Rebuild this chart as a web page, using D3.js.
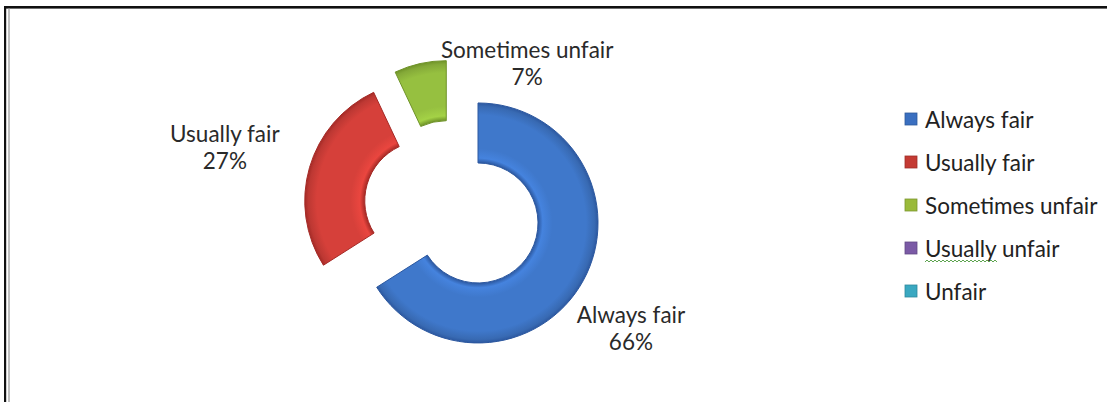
<!DOCTYPE html>
<html><head><meta charset="utf-8">
<script src="https://cdn.jsdelivr.net/npm/d3@7"></script>
<style>
body{margin:0;background:#fff;}
svg text{font-family:Lato,"Open Sans",sans-serif;}
</style>
</head><body>
<svg id="chart" width="1107" height="402"></svg>
<script>
// ---- data ----
const categories = ["Always fair", "Usually fair", "Sometimes unfair", "Usually unfair", "Unfair"];
const values = [66, 27, 7, 0, 0];
const percentLabels = ["66%", "27%", "7%", "0%", "0%"];

// ---- styling / layout ----
const palette = ["#3f78cb", "#d6403a", "#96c040", "#7e5ba8", "#3eaac4"];
const edgeDark = ["#2c58a0", "#a52a26", "#6f9328", "#5a3f80", "#2a8099"];
const legendPalette = ["#3a6fc0", "#c43a33", "#9aba3a", "#7b5aa6", "#3aa8c1"];
const labelNudge = [7.8, -3.4, 49.1, 0, 0];      // degrees added to mid-angle for label
const labelDist  = [190.5, 205, 136, 150, 150];  // label distance from slice centre

const W = 1107, H = 402;
const cx = 452.6, cy = 209, R = 120, r0 = 60, explode = 29;

const svg = d3.select("#chart");
svg.append("rect").attr("width", W).attr("height", H).attr("fill", "#fff");

// frame lines
svg.append("rect").attr("x", 4).attr("y", 6).attr("width", W - 4).attr("height", 2.6).attr("fill", "#111");
svg.append("rect").attr("x", 4).attr("y", 6).attr("width", 2.2).attr("height", H - 6).attr("fill", "#111");
svg.append("rect").attr("x", 8.2).attr("y", 8.6).attr("width", 1.6).attr("height", H - 8).attr("fill", "#b0b0b0");

const data = categories.map((c, i) => ({ name: c, value: values[i], label: percentLabels[i], i }));
const pie = d3.pie().sort(null).value(d => d.value).startAngle(0).endAngle(2 * Math.PI);
const arc = d3.arc().innerRadius(r0).outerRadius(R);
const arcs = pie(data).filter(d => d.value > 0);

const defs = svg.append("defs");
arcs.forEach(d => {
  const i = d.data.i;
  const g = defs.append("radialGradient").attr("id", "grad" + i)
    .attr("gradientUnits", "userSpaceOnUse").attr("cx", 0).attr("cy", 0).attr("r", R);
  const base = d3.color(palette[i]);
  const stops = [
    [0.50, d3.color(edgeDark[i])],
    [0.54, base.brighter(0.25)],
    [0.62, base],
    [0.90, base],
    [0.97, base.darker(0.35)],
    [1.00, d3.color(edgeDark[i])]
  ];
  stops.forEach(s => g.append("stop").attr("offset", s[0]).attr("stop-color", s[1].formatHex()));
});

const slices = svg.append("g").attr("transform", `translate(${cx},${cy})`);
arcs.forEach(d => {
  const i = d.data.i;
  const mid = (d.startAngle + d.endAngle) / 2;
  const ox = Math.sin(mid) * explode, oy = -Math.cos(mid) * explode;
  const g = slices.append("g").attr("transform", `translate(${ox},${oy})`);
  g.append("path").attr("d", arc(d))
    .attr("fill", `url(#grad${i})`)
    .attr("stroke", edgeDark[i]).attr("stroke-width", 1).attr("stroke-linejoin", "round");

  const la = mid + labelNudge[i] * Math.PI / 180;
  const lx = ox + Math.sin(la) * labelDist[i];
  const ly = oy - Math.cos(la) * labelDist[i];
  const t = slices.append("text").attr("text-anchor", "middle")
    .attr("font-size", 22.5).attr("fill", "#2a2a2a");
  t.append("tspan").attr("x", lx).attr("y", ly - 13.5).text(d.data.name);
  t.append("tspan").attr("x", lx).attr("y", ly + 13.5).text(d.data.label);
});

// legend
const legend = svg.append("g").attr("transform", "translate(905,128)");
const rowH = 43;
data.forEach((d, i) => {
  const row = legend.append("g").attr("transform", `translate(0,${i * rowH})`);
  const sq = d3.color(legendPalette[i]);
  row.append("rect").attr("x", 0).attr("y", -15).attr("width", 12).attr("height", 12)
    .attr("fill", sq.formatHex()).attr("stroke", sq.darker(0.6).formatHex()).attr("stroke-width", 0.8);
  const txt = row.append("text").attr("x", 20).attr("y", 0).attr("font-size", 22.5)
    .attr("fill", "#222").text(d.name);
  if (d.name === "Usually unfair") {
    // spell-check squiggle under "Usually"
    const probe = row.append("text").attr("font-size", 22.5).attr("visibility", "hidden").text("Usually");
    const w = probe.node().getComputedTextLength();
    probe.remove();
    let p = `M20,5`;
    for (let x = 20; x < 20 + w; x += 4) p += ` L${x + 2},3 L${x + 4},5`;
    row.append("path").attr("d", p).attr("fill", "none").attr("stroke", "#4c9a3c").attr("stroke-width", 0.9);
  }
});
</script>
</body></html>
